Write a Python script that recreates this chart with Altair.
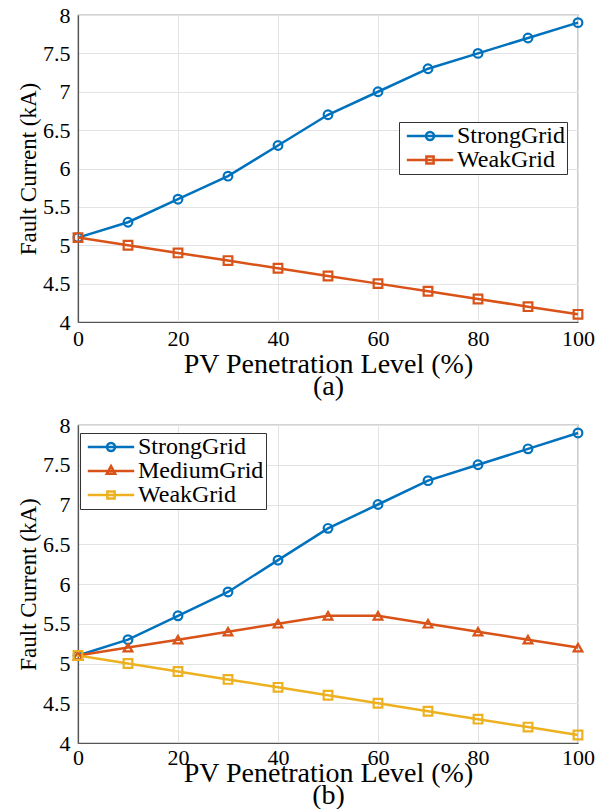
import altair as alt
import pandas as pd

penetration = [0, 10, 20, 30, 40, 50, 60, 70, 80, 90, 100]
strong_grid = [5.1, 5.3, 5.6, 5.9, 6.3, 6.7, 7.0, 7.3, 7.5, 7.7, 7.9]
medium_grid = [5.1, 5.2, 5.3, 5.4, 5.5, 5.6, 5.6, 5.5, 5.4, 5.3, 5.2]
weak_grid = [5.1, 5.0, 4.9, 4.8, 4.7, 4.6, 4.5, 4.4, 4.3, 4.2, 4.1]

series_a = ["StrongGrid", "WeakGrid"]
series_b = ["StrongGrid", "MediumGrid", "WeakGrid"]
colors_a = ["#0072BD", "#D95319"]
colors_b = ["#0072BD", "#D95319", "#EDB120"]
shapes_a = ["circle", "square"]
shapes_b = ["circle", "triangle-up", "square"]

x_ticks = [0, 20, 40, 60, 80, 100]
y_ticks = [4, 4.5, 5, 5.5, 6, 6.5, 7, 7.5, 8]

LINE = "M-2.9,0L2.9,0"
LEG_PATH = {
    "circle": LINE + "M-0.5,0A0.5,0.5,0,1,1,0.5,0A0.5,0.5,0,1,1,-0.5,0",
    "square": LINE + "M-0.45,-0.45L0.45,-0.45L0.45,0.45L-0.45,0.45Z",
    "triangle-up": LINE + "M0,-0.6L0.52,0.35L-0.52,0.35Z",
}
FONT = "Liberation Serif"


def long_df(names, values):
    rows = []
    for name, vals in zip(names, values):
        for p, v in zip(penetration, vals):
            rows.append({"pen": p, "val": v, "series": name})
    return pd.DataFrame(rows)


def panel(df, series, colors, shapes, xtitle, xlpad, xtpad, lx, ly, w, h):
    base = alt.Chart(df).encode(
        x=alt.X("pen:Q", scale=alt.Scale(domain=[0, 100], nice=False),
                axis=alt.Axis(values=x_ticks, title=xtitle, titleLineHeight=22,
                              titlePadding=xtpad, labelPadding=xlpad, labelFlush=False)),
        y=alt.Y("val:Q", scale=alt.Scale(domain=[4, 8], nice=False),
                axis=alt.Axis(values=y_ticks, format="~g", title="Fault Current (kA)",
                              titlePadding=2, labelPadding=8, labelFlush=False,
                              titleFontSize=23)),
    )
    layers = []
    for s, c in zip(series, colors):
        layers.append(
            base.transform_filter(alt.datum.series == s).mark_line(color=c, strokeWidth=2.5)
        )
    for s, c, sh in zip(series, colors, shapes):
        layers.append(
            base.transform_filter(alt.datum.series == s)
            .mark_point(shape=sh, filled=False, color=c, size=75, strokeWidth=2.2, opacity=1)
        )
    leg = base.mark_point(filled=False, opacity=0, strokeWidth=2.5).encode(
        color=alt.Color("series:N", scale=alt.Scale(domain=series, range=colors),
                        legend=alt.Legend(
                            orient="none", legendX=lx, legendY=ly, title=None,
                            symbolSize=256, symbolStrokeWidth=2.5, symbolOpacity=1,
                            symbolOffset=17, labelOffset=15,
                            labelFont=FONT, labelFontSize=24, labelColor="black",
                            strokeColor="#333", fillColor="white", padding=2,
                            rowPadding=-3, labelLimit=300)),
        shape=alt.Shape("series:N", scale=alt.Scale(domain=series,
                                                    range=[LEG_PATH[x] for x in shapes])),
    )
    layers.append(leg)
    return alt.layer(*layers).properties(width=w, height=h)


df_a = long_df(series_a, [strong_grid, weak_grid])
df_b = long_df(series_b, [strong_grid, medium_grid, weak_grid])

top = panel(df_a, series_a, colors_a, shapes_a,
            ["PV Penetration Level (%)", "(a)"], 6, 1, 321, 107, 500, 307)
bottom = panel(df_b, series_b, colors_b, shapes_b,
               ["PV Penetration Level (%)", "(b)"], 4, -9, 2, 8, 500, 318)

chart = alt.concat(top, bottom, columns=1, spacing=12).resolve_scale(
    color="independent", shape="independent",
    x="independent", y="independent"
).resolve_legend(color="independent", shape="independent").properties(
    padding={"left": 16, "top": 3, "right": 2, "bottom": 0}
).configure_axis(
    labelFont=FONT, labelFontSize=22, labelColor="black",
    titleFont=FONT, titleFontSize=28, titleFontWeight="normal", titleColor="black",
    domainColor="#555", domainWidth=1.2, gridColor="#e3e3e3", gridWidth=1,
    ticks=False,
).configure_view(stroke="#555", strokeWidth=1.2)

chart.save("out.html", embed_options={"renderer": "svg", "actions": False})
